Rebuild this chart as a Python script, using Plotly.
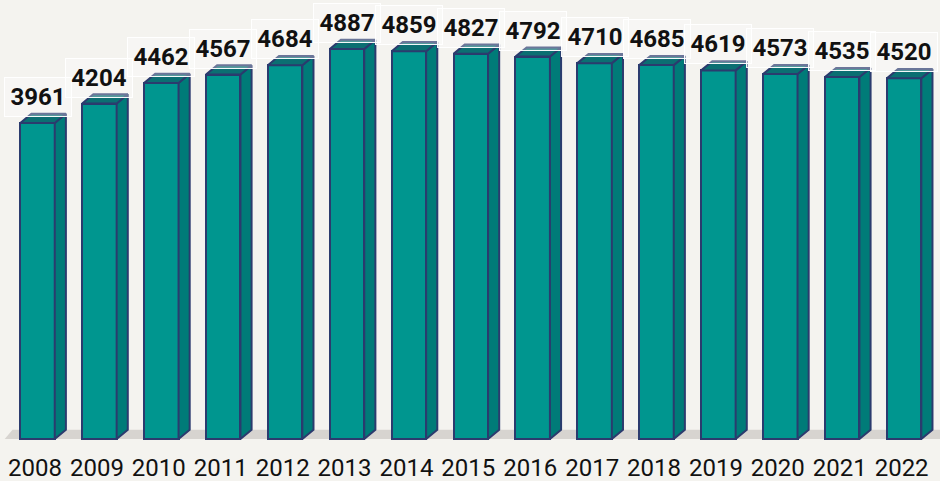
import plotly.graph_objects as go

years = ["2008", "2009", "2010", "2011", "2012", "2013", "2014", "2015",
         "2016", "2017", "2018", "2019", "2020", "2021", "2022"]
values = [3961, 4204, 4462, 4567, 4684, 4887, 4859, 4827, 4792, 4710,
          4685, 4619, 4573, 4535, 4520]

FRONT = "#00968f"
SIDE = "#007b78"
TOP = "#0b6f72"
EDGE = "#2b3b6e"
BG = "#f4f3ef"
FLOOR = "#d7d4d0"

W = 0.557      # bar width (category units)
DX = 0.18      # depth offset x (category units)
DY = 115       # depth offset y (value units)

xs = list(range(len(values)))

side_x, side_y, top_x, top_y = [], [], [], []
for i, v in zip(xs, values):
    r = i + W / 2
    l = i - W / 2
    side_x += [r, r + DX, r + DX, r, r, None]
    side_y += [0, DY, v + DY, v, 0, None]
    top_x += [l, r, r + DX, l + DX, l, None]
    top_y += [v, v, v + DY, v + DY, v, None]

fig = go.Figure()
fig.add_trace(go.Scatter(x=side_x, y=side_y, mode="lines", fill="toself",
                         fillcolor=SIDE, line=dict(color=EDGE, width=2),
                         hoverinfo="skip", showlegend=False))
fig.add_trace(go.Scatter(x=top_x, y=top_y, mode="lines", fill="toself",
                         fillcolor=TOP, line=dict(color=EDGE, width=2),
                         hoverinfo="skip", showlegend=False))
fig.add_trace(go.Bar(x=xs, y=values, width=W, marker=dict(color=FRONT, line=dict(color=EDGE, width=2)),
                     showlegend=False))

# floor
fx0, fx1 = -0.53, 15.5
fig.add_shape(type="path", layer="below",
              path=f"M {fx0},0 L {fx1},0 L {fx1 + DX},{DY} L {fx0 + DX*0.7},{DY} Z",
              fillcolor=FLOOR, line=dict(width=0))

for i, v in zip(xs, values):
    fig.add_annotation(x=i, y=v, yshift=26, text=f"<b>{v}</b>", showarrow=False,
                       yanchor="middle", xanchor="center",
                       font=dict(family="Roboto", size=24, color="#111111"),
                       bgcolor="rgba(255,255,255,0.3)", bordercolor="rgba(255,255,255,0.95)",
                       borderwidth=1, borderpad=2, width=62, height=34)

fig.update_layout(
    width=940, height=481, margin=dict(l=0, r=0, t=0, b=38),
    paper_bgcolor=BG, plot_bgcolor=BG, bargap=0,
    xaxis=dict(range=[-0.606, 14.58], tickvals=[x - 0.04 for x in xs], ticktext=years,
               showgrid=False, zeroline=False, showline=False, ticks="",
               ticklabelstandoff=8, automargin=False,
               tickfont=dict(family="Roboto", size=24, color="#111111"), fixedrange=True),
    yaxis=dict(range=[-50, 5501], visible=False, showgrid=False, zeroline=False, fixedrange=True),
)

fig.write_html("out.html", config={"displayModeBar": False},
               post_script="document.body.style.margin='0';document.body.style.background='%s';" % BG)
